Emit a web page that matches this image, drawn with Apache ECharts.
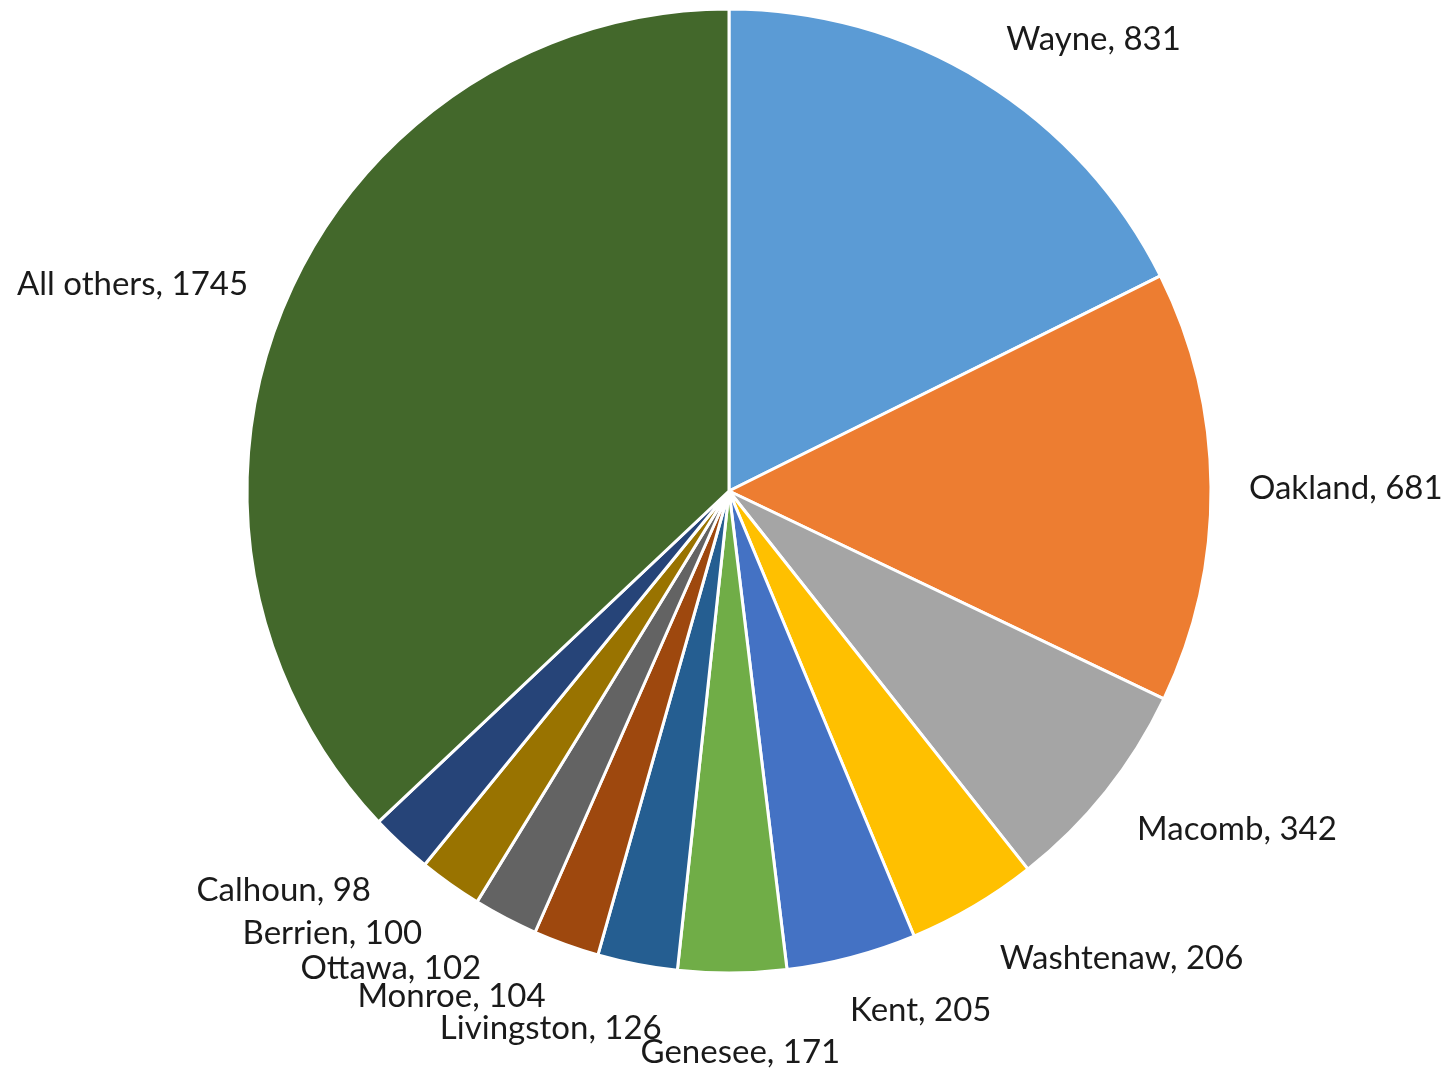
<!DOCTYPE html>
<html><head><meta charset="utf-8">
<script src="https://cdn.jsdelivr.net/npm/echarts@6/dist/echarts.min.js"></script>
<style>html,body{margin:0;padding:0;background:#fff}#c{width:1449px;height:1070px}</style>
</head><body><div id="c"></div>
<script>
const categories = ['Wayne','Oakland','Macomb','Washtenaw','Kent','Genesee','Livingston','Monroe','Ottawa','Berrien','Calhoun','All others'];
const values = [831,681,342,206,205,171,126,104,102,100,98,1745];
const colors = ['#5B9BD5','#ED7D31','#A5A5A5','#FFC000','#4472C4','#70AD47','#255E91','#9E480E','#636363','#997300','#264478','#43682B'];
// label nudges (style only) to mimic spreadsheet label placement
const labelNudge = {
  Wayne:[-5,-4], Oakland:[-7,2], Macomb:[-12,10], Washtenaw:[-20,13], Kent:[-65,10], Genesee:[-97,17],
  Livingston:[38,0], Monroe:[28,3], Ottawa:[28,10], Berrien:[20,12], Calhoun:[16,13], 'All others':[8,2]
};
const chart = echarts.init(document.getElementById('c'));
chart.setOption({
  animation:false,
  color: colors,
  series:[{
    type:'pie',
    center:[729,491],
    radius:482,
    startAngle:90,
    clockwise:true,
    avoidLabelOverlap:true,
    itemStyle:{borderColor:'#fff',borderWidth:3},
    label:{show:true,position:'outside',formatter:'{b}, {c}',fontFamily:'Lato',fontSize:33,color:'#1a1a1a',overflow:'none'},
    labelLine:{show:false,length:45,length2:0},
    labelLayout:function(p){
      const n = labelNudge[categories[p.dataIndex]] || [0,0];
      return {dx:n[0], dy:n[1]};
    },
    data: categories.map((n,i)=>({name:n,value:values[i]}))
  }]
});
</script></body></html>
